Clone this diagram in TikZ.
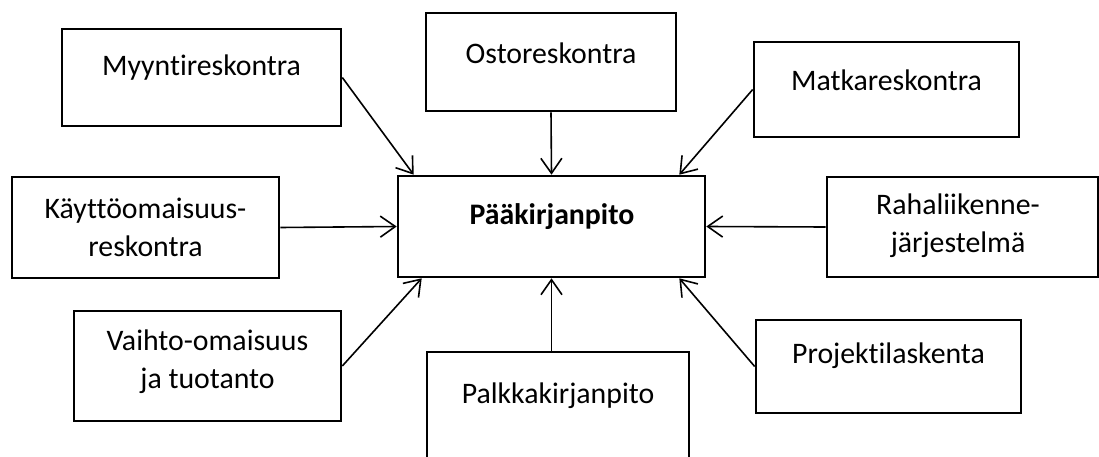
\documentclass[tikz,border=0pt]{standalone}
\usepackage{fontspec}
\setmainfont{Carlito}[Ligatures={NoCommon}]
\usetikzlibrary{arrows.meta}
\begin{document}
\begin{tikzpicture}[x=1pt,y=-1pt,
  box/.style={draw=black, line width=2.6pt, rectangle, inner sep=0pt},
  txt/.style={inner sep=0pt, align=center, font=\fontsize{29.8}{38}\selectfont},
  arr/.style={line width=1.6pt, -{Straight Barb[length=15pt,width=21pt,line width=1.6pt]}}]
\useasboundingbox[fill=white] (0,0) rectangle (1099,457);
% boxes
\node[box, minimum width=279pt, minimum height=97pt] (myy) at (201.5,77.5) {};
\node[box, minimum width=250pt, minimum height=98pt] (ost) at (551,62) {};
\node[box, minimum width=265pt, minimum height=95pt] (mat) at (886.5,89.5) {};
\node[box, minimum width=267pt, minimum height=101pt] (kay) at (145.5,227.5) {};
\node[box, minimum width=271pt, minimum height=100pt] (raha) at (962.5,227) {};
\node[box, minimum width=307pt, minimum height=101pt] (paa) at (551.5,226.5) {};
\node[box, minimum width=267pt, minimum height=110pt] (vai) at (207.5,366) {};
\node[box, minimum width=262pt, minimum height=128pt] (pal) at (558,416) {};
\node[box, minimum width=265pt, minimum height=93pt] (pro) at (888.5,366.5) {};
% texts
\node[txt] (myyt) at (201.5,68) {Myyntireskontra};
\node[txt] (ostt) at (551,53) {Ostoreskontra};
\node[txt] (matt) at (886.5,80) {Matkareskontra};
\node[txt] (kayt) at (145.5,227) {Käyttöomaisuus-\\reskontra};
\node[txt] (rahat) at (958,225.5) {Rahaliikenne-\\järjestelmä};
\node[txt, font=\fontsize{29.8}{38}\selectfont\bfseries] (paat) at (552,217) {Pääkirjanpito};
\node[txt] (vait) at (207.5,361.5) {Vaihto-omaisuus\\ja tuotanto};
\node[txt] (palt) at (558,396) {Palkkakirjanpito};
\node[txt] (prot) at (888.5,356) {Projektilaskenta};
% arrows
\draw[arr] (myy.east) -- ([xshift=17pt]paa.north west);
\draw[arr] (ost.south) -- (paa.north);
\draw[arr] (mat.west) -- ([xshift=-27pt]paa.north east);
\draw[arr] (kay.east) -- (paa.west);
\draw[arr] (raha.west) -- (paa.east);
\draw[arr] (vai.east) -- ([xshift=25pt]paa.south west);
\draw[arr] (pal.north -| paa.south) -- (paa.south);
\draw[arr] (pro.west) -- ([xshift=-27pt]paa.south east);
\end{tikzpicture}
\end{document}
